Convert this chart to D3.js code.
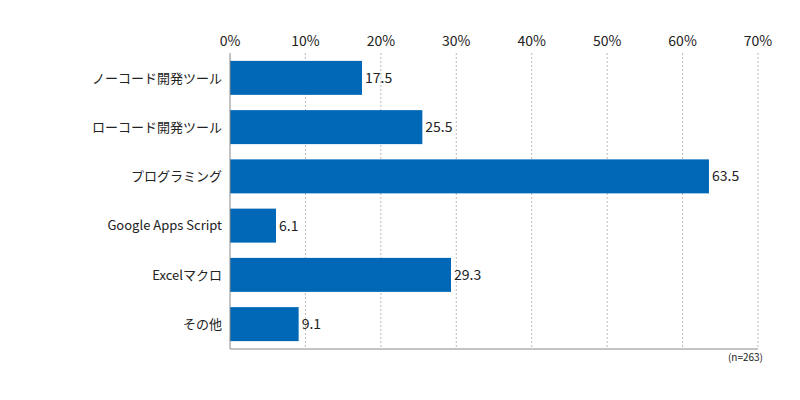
<!DOCTYPE html>
<html><head><meta charset="utf-8">
<script src="https://cdn.jsdelivr.net/npm/d3@7"></script>
<style>body{margin:0;background:#fff}</style>
</head><body>
<svg id="chart" width="800" height="400"></svg>
<script>
var categories = ["ノーコード開発ツール", "ローコード開発ツール", "プログラミング", "Google Apps Script", "Excelマクロ", "その他"];
var values = [17.5, 25.5, 63.5, 6.1, 29.3, 9.1];
var ticks = [0, 10, 20, 30, 40, 50, 60, 70];

var svg = d3.select("#chart");
var font = "'Noto Sans CJK JP', 'Noto Sans', sans-serif";
var plotLeft = 230, plotRight = 758, plotTop = 53, plotBottom = 349;

var x = d3.scaleLinear().domain([0, 70]).range([plotLeft, plotRight]);
var y = d3.scaleBand().domain(categories).range([plotTop, plotBottom]).paddingInner(0.31).paddingOuter(0.16);

// grid
svg.selectAll("line.grid").data(ticks.slice(1)).enter().append("line")
  .attr("x1", function (d) { return x(d); }).attr("x2", function (d) { return x(d); })
  .attr("y1", plotTop).attr("y2", plotBottom)
  .attr("stroke", "#bbb").attr("stroke-dasharray", "2,2");

// top tick labels
svg.selectAll("text.tick").data(ticks).enter().append("text")
  .attr("x", function (d) { return x(d); }).attr("y", 46)
  .attr("text-anchor", "middle").attr("font-family", font).attr("font-size", 14).attr("fill", "#222")
  .text(function (d) { return d + "%"; });

// bars
svg.selectAll("rect.bar").data(values).enter().append("rect")
  .attr("x", x(0)).attr("y", function (d, i) { return y(categories[i]); })
  .attr("width", function (d) { return x(d) - x(0); }).attr("height", y.bandwidth())
  .attr("fill", "#0068b6");

svg.selectAll("text.val").data(values).enter().append("text")
  .attr("x", function (d) { return x(d) + 3; })
  .attr("y", function (d, i) { return y(categories[i]) + y.bandwidth() / 2; })
  .attr("dy", "0.36em").attr("font-family", font).attr("font-size", 14).attr("fill", "#222")
  .text(function (d) { return d.toFixed(1); });

svg.selectAll("text.cat").data(categories).enter().append("text")
  .attr("x", plotLeft - 8).attr("y", function (d) { return y(d) + y.bandwidth() / 2; })
  .attr("dy", "0.36em").attr("text-anchor", "end").attr("font-family", font).attr("font-size", 13).attr("fill", "#222")
  .text(function (d) { return d; });

// frame
svg.append("line").attr("x1", plotLeft).attr("x2", plotLeft).attr("y1", plotTop).attr("y2", plotBottom).attr("stroke", "#888");
svg.append("line").attr("x1", plotLeft).attr("x2", plotRight).attr("y1", plotBottom).attr("y2", plotBottom).attr("stroke", "#888");

svg.append("text").attr("x", 763).attr("y", 361).attr("text-anchor", "end")
  .attr("font-family", font).attr("font-size", 10).attr("fill", "#222").text("(n=263)");
</script>
</body></html>
